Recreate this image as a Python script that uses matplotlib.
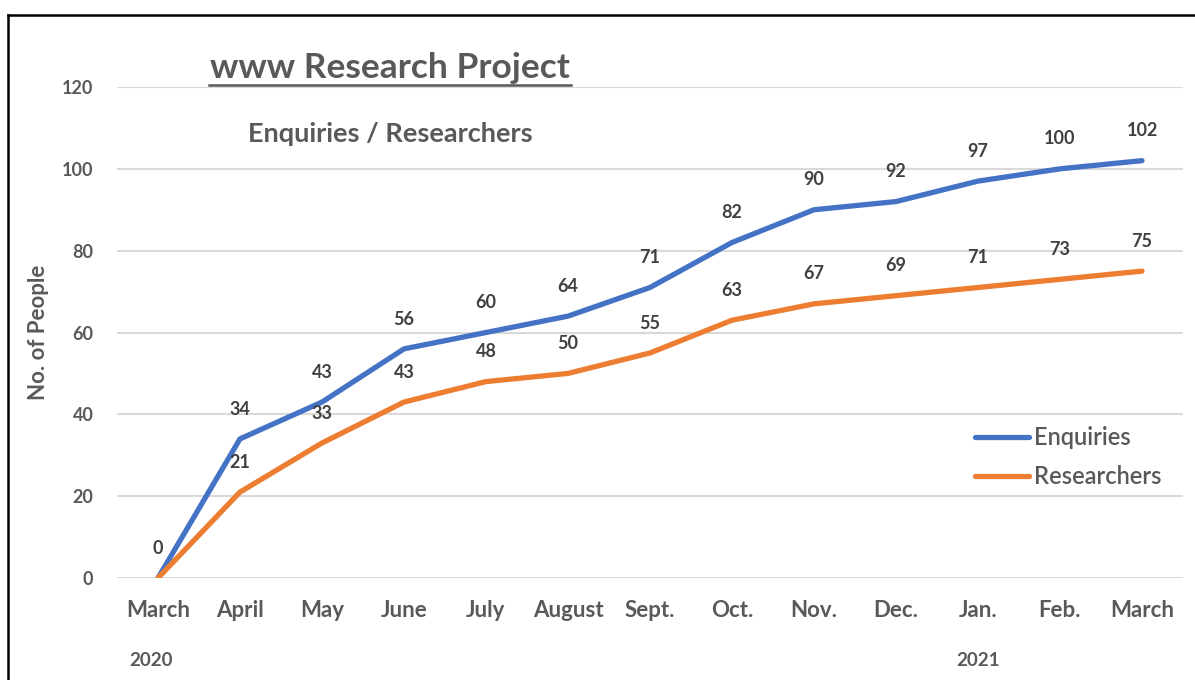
import matplotlib
matplotlib.use("Agg")
import matplotlib.pyplot as plt
from matplotlib.lines import Line2D
import matplotlib.transforms as mtransforms

months = ["March", "April", "May", "June", "July", "August", "Sept.", "Oct.",
          "Nov.", "Dec.", "Jan.", "Feb.", "March"]
enquiries = [0, 34, 43, 56, 60, 64, 71, 82, 90, 92, 97, 100, 102]
researchers = [0, 21, 33, 43, 48, 50, 55, 63, 67, 69, 71, 73, 75]
yticks = [0, 20, 40, 60, 80, 100, 120]
year_labels = [(0, "2020"), (10, "2021")]

plt.rcParams['font.family'] = ['Lato', 'DejaVu Sans']

W, H = 1195, 680
fig = plt.figure(figsize=(W / 100, H / 100), dpi=100)
fig.patch.set_facecolor("white")

ax = fig.add_axes([117 / W, 1 - 578 / H, (1183 - 117) / W, (578 - 87) / H])
ax.set_xlim(-0.5, len(months) - 0.5)
ax.set_ylim(0, 120)
for s in ax.spines.values():
    s.set_visible(False)
ax.set_yticks(yticks)
ax.set_xticks(range(len(months)))
ax.set_xticklabels(months)
ax.tick_params(length=0)
ax.tick_params(axis='y', pad=17, labelsize=13, labelcolor="#595959")
ax.tick_params(axis='x', pad=16, labelsize=16, labelcolor="#595959")
for lab in ax.get_xticklabels() + ax.get_yticklabels():
    lab.set_fontweight("bold")
ax.grid(axis='y', color="#D9D9D9", linewidth=1.5)
ax.set_axisbelow(True)

x = list(range(len(months)))
ax.plot(x, enquiries, color="#4472C4", lw=3.8, solid_capstyle="round",
        solid_joinstyle="round", label="Enquiries", zorder=3)
ax.plot(x, researchers, color="#ED7D31", lw=3.8, solid_capstyle="round",
        solid_joinstyle="round", label="Researchers", zorder=3)

for i, v in enumerate(enquiries):
    ax.annotate(str(v), (i, v), xytext=(0, 21.5), textcoords="offset points",
                ha="center", va="center", fontsize=13, fontweight="bold",
                color="#404040")
for i, v in enumerate(researchers):
    if i == 0:
        continue
    ax.annotate(str(v), (i, v), xytext=(0, 21.5), textcoords="offset points",
                ha="center", va="center", fontsize=13, fontweight="bold",
                color="#404040")

ax.set_ylabel("No. of People", fontsize=16, fontweight="bold",
              color="#595959", labelpad=9)

trans = mtransforms.blended_transform_factory(ax.transData, fig.transFigure)
for xi, txt in year_labels:
    off = -0.08 if xi == 0 else 0.0
    ax.text(xi + off, 1 - 661 / H, txt, transform=trans, ha="center",
            va="center", fontsize=13.5, fontweight="bold", color="#595959")

# titles
fig.text(390 / W, 1 - 68 / H, "www Research Project", ha="center",
         va="center", fontsize=25.5, fontweight="bold", color="#595959")
fig.add_artist(Line2D([209 / W, 571 / W], [1 - 85 / H, 1 - 85 / H],
                      color="#595959", lw=1.8))
fig.text(390 / W, 1 - 134 / H, "Enquiries / Researchers", ha="center",
         va="center", fontsize=19.5, fontweight="bold", color="#595959")

leg = ax.legend(loc="upper left", bbox_to_anchor=(975 / W, 1 - 426 / H),
                bbox_transform=fig.transFigure, frameon=False,
                prop={'size': 17, 'weight': 'semibold'},
                handlelength=2.3, handletextpad=0.22,
                labelspacing=0.68, borderpad=0, borderaxespad=0)
for t in leg.get_texts():
    t.set_color("#595959")
for h in leg.get_lines():
    h.set_solid_capstyle("round")

# outer frame (top + left edges)
fig.add_artist(Line2D([8 / W, 1.0], [1 - 15 / H, 1 - 15 / H], color="black", lw=1.8))
fig.add_artist(Line2D([8 / W, 8 / W], [1 - 15 / H, 0.0], color="black", lw=1.8))

fig.savefig("out.png", dpi=100, facecolor="white")
